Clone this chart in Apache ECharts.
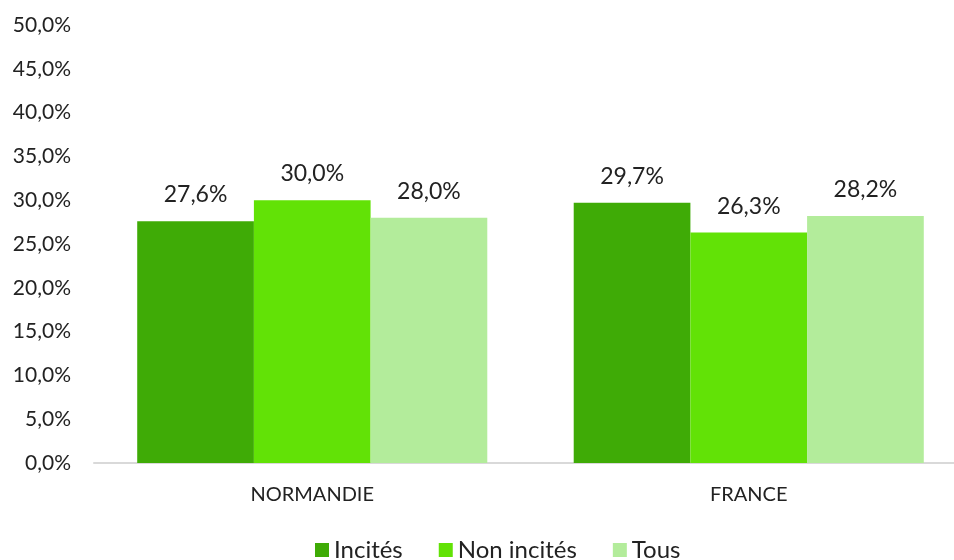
<!DOCTYPE html>
<html>
<head>
<meta charset="utf-8">
<script src="https://cdn.jsdelivr.net/npm/echarts@6/dist/echarts.min.js"></script>
<style>
  html, body { margin: 0; padding: 0; background: #fff; }
  #chart { width: 954px; height: 560px; }
</style>
</head>
<body>
<div id="chart"></div>
<script>
// Share of people, by region and group (percent)
const categories = ['NORMANDIE', 'FRANCE'];
const seriesNames = ['Incités', 'Non incités', 'Tous'];
const incites = [27.6, 29.7];
const nonIncites = [30.0, 26.3];
const tous = [28.0, 28.2];
const colors = ['#3fab06', '#62e206', '#b3ec9b'];

const fmt = v => v.toFixed(1).replace('.', ',') + '%';
const FONT = 'Lato, "Open Sans", sans-serif';

const chart = echarts.init(document.getElementById('chart'));

function barSeries(name, data, color) {
  return {
    name: name,
    type: 'bar',
    data: data,
    itemStyle: { color: color },
    barGap: '0%',
    barCategoryGap: '19.8%',
    label: {
      show: true,
      position: 'top',
      distance: 15,
      formatter: p => fmt(p.value),
      color: '#222',
      fontSize: 23,
      fontFamily: FONT
    }
  };
}

chart.setOption({
  animation: false,
  color: colors,
  textStyle: { fontFamily: FONT },
  // the plot runs slightly past the right edge of the canvas
  grid: {
    left: 94, width: 873, top: 25, height: 438,
    containLabel: false,
    outerBoundsMode: 'none'
  },
  legend: {
    bottom: -7,
    left: 310,
    itemWidth: 14,
    itemHeight: 14,
    itemGap: 36,
    icon: 'rect',
    textStyle: { fontSize: 24, color: '#222', fontFamily: FONT },
    data: seriesNames
  },
  xAxis: {
    type: 'category',
    data: categories,
    axisLine: { lineStyle: { color: '#d9d9d9', width: 2 } },
    axisTick: { show: false },
    axisLabel: { color: '#222', fontSize: 20, margin: 22, fontFamily: FONT }
  },
  yAxis: {
    type: 'value',
    min: 0,
    max: 50,
    interval: 5,
    splitLine: { show: false },
    axisLine: { show: false },
    axisTick: { show: false },
    axisLabel: {
      color: '#222',
      fontSize: 21,
      margin: 23,
      fontFamily: FONT,
      formatter: v => fmt(v)
    }
  },
  series: [
    barSeries(seriesNames[0], incites, colors[0]),
    barSeries(seriesNames[1], nonIncites, colors[1]),
    barSeries(seriesNames[2], tous, colors[2])
  ]
});
</script>
</body>
</html>
